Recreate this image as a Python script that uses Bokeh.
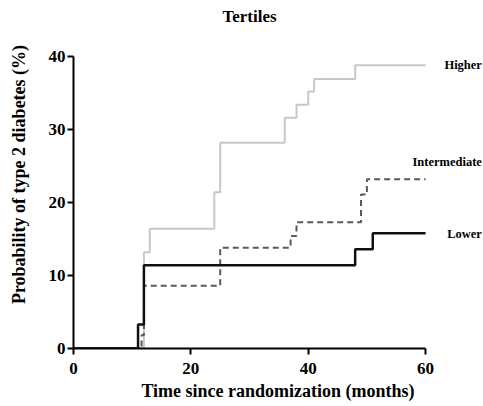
from bokeh.plotting import figure
from bokeh.models import Label, FixedTicker, Range1d
from bokeh.embed import file_html
from bokeh.resources import INLINE

lower_t = [0, 11, 12, 48, 51, 60]
lower_p = [0, 3.3, 11.4, 13.6, 15.8, 15.8]
inter_t = [0, 11.6, 12, 25, 37, 38, 49, 50, 60]
inter_p = [0, 1.8, 8.6, 13.8, 15.4, 17.3, 21.1, 23.2, 23.2]
higher_t = [0, 12, 13, 24, 25, 36, 38, 40, 41, 48, 60]
higher_p = [0, 13.2, 16.4, 21.4, 28.2, 31.6, 33.4, 35.2, 36.9, 38.8, 38.8]
x_ticks = [0, 20, 40, 60]
y_ticks = [0, 10, 20, 30, 40]
series_labels = ["Higher", "Intermediate", "Lower"]
label_y = [38.8, 25.5, 15.75]
title_text = "Tertiles"

FONT = "Liberation Serif"

# frame extends above the y axis (bounded 0..40) and right of x axis (bounded 0..60)
p = figure(width=482, height=405, output_backend="svg", toolbar_location=None,
           x_range=Range1d(0, 69.7), y_range=Range1d(0, 47.67),
           frame_width=409, frame_height=348,
           min_border_left=73, min_border_right=0, min_border_top=0, min_border_bottom=57)

p.step(higher_t, higher_p, mode="after", line_color="#c8c8c8", line_width=2)
p.step(inter_t, inter_p, mode="after", line_color="#595959", line_width=2, line_dash="6 4")
p.step(lower_t, lower_p, mode="after", line_color="#111111", line_width=2.5)

p.grid.visible = False
p.outline_line_color = None
p.background_fill_color = "white"

for ax, ticks in ((p.xaxis[0], x_ticks), (p.yaxis[0], y_ticks)):
    ax.ticker = FixedTicker(ticks=ticks)
    ax.axis_line_width = 2
    ax.axis_line_color = "black"
    ax.major_tick_line_width = 2
    ax.major_tick_line_color = "black"
    ax.major_tick_out = 6
    ax.major_tick_in = 0
    ax.minor_tick_line_color = None
    ax.major_label_text_font = FONT
    ax.major_label_text_font_style = "bold"
    ax.major_label_text_font_size = "17px"
    ax.major_label_text_color = "black"
    ax.axis_label_text_font = FONT
    ax.axis_label_text_font_style = "bold"
    ax.axis_label_text_font_size = "18px"
    ax.axis_label_text_color = "black"

p.xaxis.bounds = (0, 60)
p.yaxis.bounds = (0, 40)
p.xaxis.major_label_standoff = 8
p.yaxis.major_label_standoff = 2
p.xaxis.axis_label = "Time since randomization (months)"
p.yaxis.axis_label = "Probability of type 2 diabetes (%)"
p.xaxis.axis_label_standoff = 4
p.yaxis.axis_label_standoff = 17

p.add_layout(Label(x=30, y=45.5, text=title_text, text_font=FONT, text_font_style="bold",
                   text_font_size="17px", text_baseline="middle", text_align="center",
                   text_color="black"))

for txt, ly in zip(series_labels, label_y):
    p.add_layout(Label(x=69.6, y=ly, text=txt, text_font=FONT, text_font_style="bold",
                       text_font_size="12.5px", text_baseline="middle", text_align="right",
                       text_color="black"))

open("out.html", "w").write(file_html(p, INLINE))
